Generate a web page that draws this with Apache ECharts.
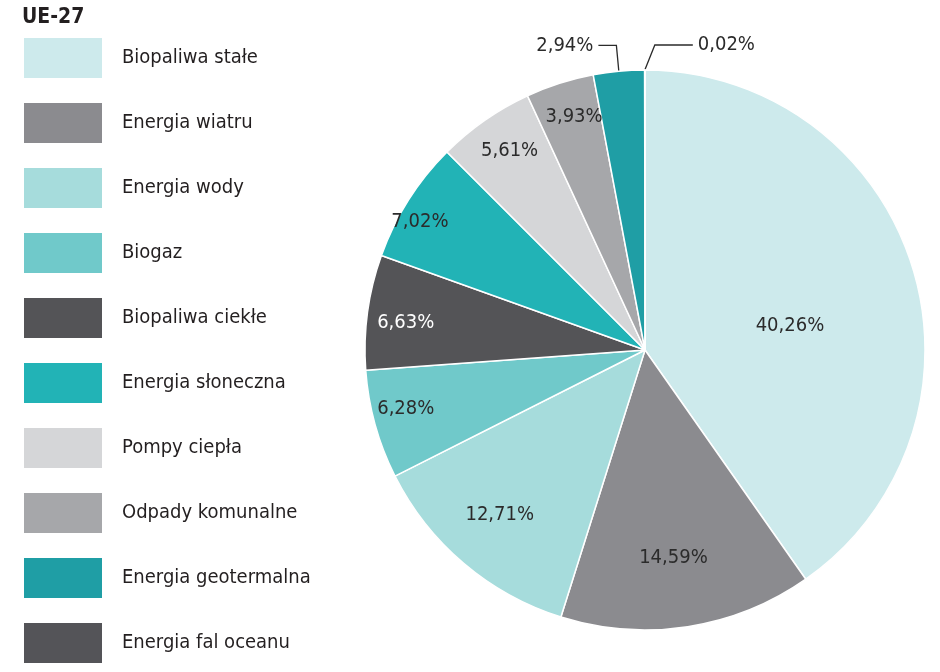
<!DOCTYPE html>
<html>
<head>
<meta charset="utf-8">
<script src="https://cdn.jsdelivr.net/npm/echarts@6/dist/echarts.min.js"></script>
<style>
html,body{margin:0;padding:0;background:#fff;}
#chart{width:940px;height:672px;}
</style>
</head>
<body>
<div id="chart"></div>
<script>
const title = 'UE-27';
const categories = ['Biopaliwa stałe','Energia wiatru','Energia wody','Biogaz','Biopaliwa ciekłe','Energia słoneczna','Pompy ciepła','Odpady komunalne','Energia geotermalna','Energia fal oceanu'];
const values = [40.26, 14.59, 12.71, 6.28, 6.63, 7.02, 5.61, 3.93, 2.94, 0.02];
const colors = ['#cdeaec','#8b8b8f','#a6dcdc','#70c9ca','#545457','#22b3b6','#d5d6d8','#a6a7aa','#1f9ea5','#545458'];
const labelColors = ['#2b2b2b','#2b2b2b','#2b2b2b','#2b2b2b','#ffffff','#2b2b2b','#2b2b2b','#2b2b2b','#2b2b2b','#2b2b2b'];
// label placement: fraction of radius and angular shift (deg) for inside labels; null = outside label
const labelRadiusFrac = [0.525, 0.75, 0.785, 0.88, 0.86, 0.925, 0.86, 0.87, null, null];
const labelAngleShift = [8, 1, 1, 1.6, -1.3, -2.7, 0.7, 0.8, 0, 0];

const FONT = "'Liberation Sans Narrow','DejaVu Sans Condensed','Roboto Condensed',sans-serif";
const CX = 645, CY = 350, R = 280;

function fmt(v){ return v.toFixed(2).replace('.', ',') + '%'; }

const seriesData = categories.map((name, i) => {
  const outside = labelRadiusFrac[i] === null;
  return {
    name: name,
    value: values[i],
    itemStyle: { color: colors[i] },
    label: {
      position: outside ? 'outside' : 'inside',
      color: labelColors[i]
    },
    labelLine: outside ? { show: true, length: 26, length2: 18, lineStyle: { color: '#2b2b2b', width: 1.3 } } : { show: false }
  };
});

const chart = echarts.init(document.getElementById('chart'), null, { renderer: 'canvas' });
chart.setOption({
  animation: false,
  backgroundColor: '#ffffff',
  title: {
    text: title,
    left: 22, top: 7,
    padding: 0,
    textStyle: { fontFamily: FONT, fontSize: 21, fontWeight: 'bold', color: '#231f20' }
  },
  legend: {
    orient: 'vertical',
    left: 24, top: 38,
    padding: 0,
    height: 640,
    icon: 'rect',
    itemWidth: 78, itemHeight: 40, itemGap: 25,
    selectedMode: false,
    itemStyle: { borderWidth: 0 },
    textStyle: { fontFamily: FONT, fontSize: 20, color: '#231f20', padding: [0, 0, 0, 15] },
    data: categories
  },
  series: [{
    type: 'pie',
    center: [CX, CY],
    radius: [0, R],
    startAngle: 90,
    clockwise: true,
    avoidLabelOverlap: false,
    itemStyle: { borderColor: '#ffffff', borderWidth: 1.5 },
    label: {
      show: true,
      fontFamily: FONT,
      fontSize: 20,
      formatter: p => fmt(p.value)
    },
    labelLayout: function (params) {
      const i = params.dataIndex;
      const frac = labelRadiusFrac[i];
      if (frac === null) {
        if (values[i] < 0.5) {
          const p0 = params.labelLinePoints[0];
          const up = 25;
          return {
            x: p0[0] + 53, y: p0[1] - up,
            align: 'left', verticalAlign: 'middle',
            labelLinePoints: [[p0[0], p0[1]], [p0[0] + 10, p0[1] - up], [p0[0] + 48, p0[1] - up]]
          };
        }
        return {};
      }
      const lr = params.labelRect;
      const lx = lr.x + lr.width / 2, ly = lr.y + lr.height / 2;
      const ang = Math.atan2(lx - CX, -(ly - CY)) + labelAngleShift[i] * Math.PI / 180;
      const rr = frac * R;
      return {
        x: CX + rr * Math.sin(ang),
        y: CY - rr * Math.cos(ang),
        align: 'center', verticalAlign: 'middle'
      };
    },
    data: seriesData
  }]
});
</script>
</body>
</html>
